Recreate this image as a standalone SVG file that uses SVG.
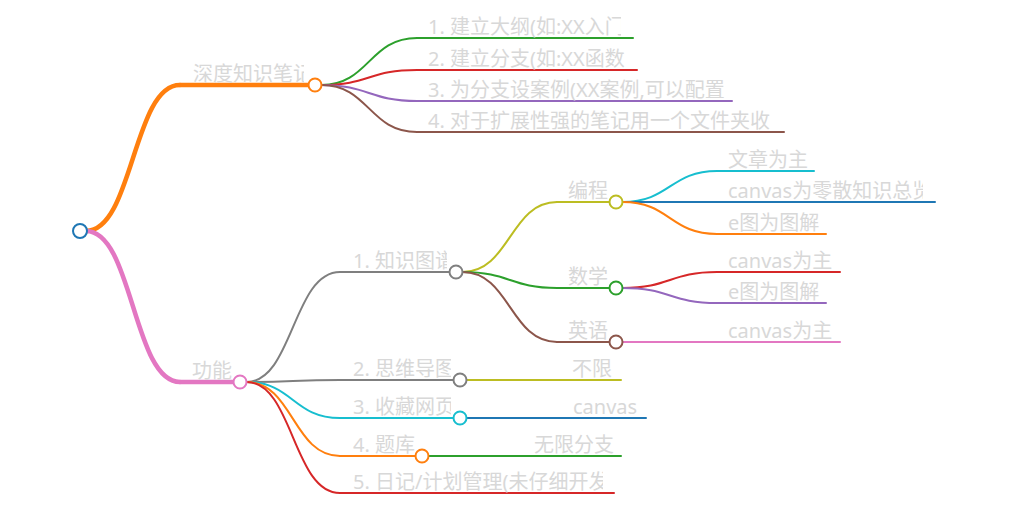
<svg xmlns="http://www.w3.org/2000/svg" width="1014" height="506" viewBox="0 0 1014 506">
<style>
text{font-family:"Noto Sans","Noto Sans CJK SC",sans-serif;font-size:20px;fill:#d8d8d8}
.l{fill:none;stroke-width:2;stroke-linecap:round}
.t{stroke-width:4.5}
circle{fill:#fff;stroke-width:2}
</style>
<defs>
<clipPath id="c0" clipPathUnits="userSpaceOnUse"><rect x="0" y="0" width="304" height="506"/></clipPath>
<clipPath id="c1" clipPathUnits="userSpaceOnUse"><rect x="0" y="0" width="621" height="506"/></clipPath>
<clipPath id="c3" clipPathUnits="userSpaceOnUse"><rect x="0" y="0" width="730" height="506"/></clipPath>
<clipPath id="c5" clipPathUnits="userSpaceOnUse"><rect x="0" y="0" width="603" height="506"/></clipPath>
<clipPath id="ck" clipPathUnits="userSpaceOnUse"><rect x="0" y="0" width="447" height="506"/></clipPath>
<clipPath id="cs" clipPathUnits="userSpaceOnUse"><rect x="0" y="0" width="451" height="506"/></clipPath>
<clipPath id="cc" clipPathUnits="userSpaceOnUse"><rect x="0" y="0" width="923" height="506"/></clipPath>
</defs>
<rect width="1014" height="506" fill="#fff"/>
<g id="connectors">
<path class="l t" stroke="#ff7f0e" d="M86,231 C133,231 133,85 180,85"/>
<path class="l t" stroke="#e377c2" d="M86,231 C133,231 133,382 180,382"/>
<path class="l" stroke="#2ca02c" d="M321.5,85 C369,85 369,38 417,38"/>
<path class="l" stroke="#d62728" d="M321.5,85 C369,85 369,70 417,70"/>
<path class="l" stroke="#9467bd" d="M321.5,85 C369,85 369,101 417,101"/>
<path class="l" stroke="#8c564b" d="M321.5,85 C369,85 369,132 417,132"/>
<path class="l" stroke="#7f7f7f" d="M246.5,382 C293,382 293,272 340,272"/>
<path class="l" stroke="#7f7f7f" d="M246.5,382 C293,382 293,380 340,380"/>
<path class="l" stroke="#17becf" d="M246.5,382 C293,382 293,418 340,418"/>
<path class="l" stroke="#ff7f0e" d="M246.5,382 C293,382 293,456 340,456"/>
<path class="l" stroke="#d62728" d="M246.5,382 C293,382 293,493 340,493"/>
<path class="l" stroke="#bcbd22" d="M462.5,272 C510,272 510,202 557,202"/>
<path class="l" stroke="#2ca02c" d="M462.5,272 C510,272 510,288 557,288"/>
<path class="l" stroke="#8c564b" d="M462.5,272 C510,272 510,342 557,342"/>
<path class="l" stroke="#17becf" d="M622.5,202 C670,202 670,171 717,171"/>
<path class="l" stroke="#1f77b4" d="M622.5,202 C670,202 670,202 717,202"/>
<path class="l" stroke="#ff7f0e" d="M622.5,202 C670,202 670,234 717,234"/>
<path class="l" stroke="#d62728" d="M622.5,288 C670,288 670,272 717,272"/>
<path class="l" stroke="#9467bd" d="M622.5,288 C670,288 670,303 717,303"/>
<path class="l" stroke="#e377c2" d="M622.5,342 C670,342 670,342 717,342"/>
<path class="l" stroke="#bcbd22" d="M466.5,380 L560,380"/>
<path class="l" stroke="#1f77b4" d="M466.5,418 L560,418"/>
<path class="l" stroke="#2ca02c" d="M428.5,456 L522,456"/>
</g>
<g id="n-sdzs"><path class="l t" stroke="#ff7f0e" d="M180,85 H308"/><text x="193" y="81" clip-path="url(#c0)">深度知识笔记</text><circle cx="315" cy="85" r="6.5" stroke="#ff7f0e"/></g>
<g id="n-gn"><path class="l t" stroke="#e377c2" d="M180,382 H233"/><text x="192" y="378">功能</text><circle cx="240" cy="382" r="6.5" stroke="#e377c2"/></g>
<g id="n-s1"><path class="l" stroke="#2ca02c" d="M417,38 H633"/><text x="428" y="34" clip-path="url(#c1)">1. 建立大纲(如:XX入门</text></g>
<g id="n-s2"><path class="l" stroke="#d62728" d="M417,70 H637"/><text x="428" y="66">2. 建立分支(如:XX函数</text></g>
<g id="n-s3"><path class="l" stroke="#9467bd" d="M417,101 H732"/><text x="428" y="97" clip-path="url(#c3)">3. 为分支设案例(XX案例,可以配置</text></g>
<g id="n-s4"><path class="l" stroke="#8c564b" d="M417,132 H784"/><text x="428" y="128">4. 对于扩展性强的笔记用一个文件夹收</text></g>
<g id="n-zstp"><path class="l" stroke="#7f7f7f" d="M340,272 H449"/><text x="353" y="268" clip-path="url(#ck)">1. 知识图谱</text><circle cx="456" cy="272" r="6.5" stroke="#7f7f7f"/></g>
<g id="n-swdt"><path class="l" stroke="#7f7f7f" d="M340,380 H453"/><text x="353" y="376" clip-path="url(#cs)">2. 思维导图</text><circle cx="460" cy="380" r="6.5" stroke="#7f7f7f"/></g>
<g id="n-sc"><path class="l" stroke="#17becf" d="M340,418 H453"/><text x="353" y="414" clip-path="url(#cs)">3. 收藏网页</text><circle cx="460" cy="418" r="6.5" stroke="#17becf"/></g>
<g id="n-tk"><path class="l" stroke="#ff7f0e" d="M340,456 H415"/><text x="353" y="452">4. 题库</text><circle cx="422" cy="456" r="6.5" stroke="#ff7f0e"/></g>
<g id="n-rj"><path class="l" stroke="#d62728" d="M340,493 H614"/><text x="353" y="489" clip-path="url(#c5)">5. 日记/计划管理(未仔细开发</text></g>
<g id="n-bc"><path class="l" stroke="#bcbd22" d="M557,202 H609"/><text x="568" y="198">编程</text><circle cx="616" cy="202" r="6.5" stroke="#bcbd22"/></g>
<g id="n-sx"><path class="l" stroke="#2ca02c" d="M557,288 H609"/><text x="568" y="284">数学</text><circle cx="616" cy="288" r="6.5" stroke="#2ca02c"/></g>
<g id="n-yy"><path class="l" stroke="#8c564b" d="M557,342 H609"/><text x="568" y="338">英语</text><circle cx="616" cy="342" r="6.5" stroke="#8c564b"/></g>
<g id="n-bc1"><path class="l" stroke="#17becf" d="M717,171 H814"/><text x="728" y="167">文章为主</text></g>
<g id="n-bc2"><path class="l" stroke="#1f77b4" d="M717,202 H935"/><text x="728" y="198" clip-path="url(#cc)">canvas为零散知识总览</text></g>
<g id="n-bc3"><path class="l" stroke="#ff7f0e" d="M717,234 H826"/><text x="728" y="230">e图为图解</text></g>
<g id="n-sx1"><path class="l" stroke="#d62728" d="M717,272 H840"/><text x="728" y="268">canvas为主</text></g>
<g id="n-sx2"><path class="l" stroke="#9467bd" d="M717,303 H826"/><text x="728" y="299">e图为图解</text></g>
<g id="n-yy1"><path class="l" stroke="#e377c2" d="M717,342 H840"/><text x="728" y="338">canvas为主</text></g>
<g id="n-bx"><path class="l" stroke="#bcbd22" d="M560,380 H621"/><text x="572" y="376">不限</text></g>
<g id="n-cv"><path class="l" stroke="#1f77b4" d="M560,418 H646"/><text x="573" y="414">canvas</text></g>
<g id="n-wx"><path class="l" stroke="#2ca02c" d="M522,456 H621"/><text x="534" y="452">无限分支</text></g>
<g id="n-root"><circle cx="80" cy="231" r="7" stroke="#1f77b4"/></g>
</svg>
